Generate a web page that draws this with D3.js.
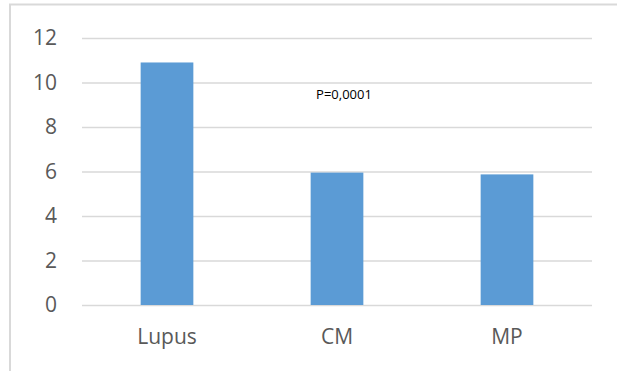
<!DOCTYPE html>
<html><head><meta charset="utf-8">
<script src="https://cdn.jsdelivr.net/npm/d3@7"></script>
<style>body{margin:0;background:#fff}svg{display:block}</style>
</head><body>
<script>
const categories = ["Lupus", "CM", "MP"];
const values = [10.9, 5.95, 5.87];
const yTicks = [0, 2, 4, 6, 8, 10, 12];
const annotation = "P=0,0001";

const W = 617, H = 371;
const svg = d3.select("body").append("svg").attr("width", W).attr("height", H);

// chart border (cropped)
svg.append("path").attr("d", `M10,371 V4.5 H617`).attr("fill","none")
  .attr("stroke","#d9d9d9").attr("stroke-width",2);

const x0 = 82, x1 = 592, yTop = 38, yBot = 305;
const x = d3.scaleBand().domain(categories).range([x0, x1]).padding(0);
const y = d3.scaleLinear().domain([0, 12]).range([yBot, yTop]);

const font = "'Open Sans', sans-serif";

const yAxis = d3.axisLeft(y).tickValues(yTicks).tickSize(-(x1 - x0)).tickPadding(25).tickFormat(d3.format("d"));
const gy = svg.append("g").attr("transform", `translate(${x0},0)`).call(yAxis);
gy.select(".domain").remove();
gy.selectAll(".tick line").attr("stroke", "#d9d9d9").attr("stroke-width", 1.5);
gy.selectAll(".tick text").attr("fill", "#595959").style("font-family", font).style("font-size", "21px");

const bw = x.bandwidth() * 0.31;
svg.append("g").selectAll("rect").data(values).join("rect")
  .attr("x", (d, i) => x(categories[i]) + x.bandwidth() / 2 - bw / 2)
  .attr("y", d => y(d))
  .attr("width", bw)
  .attr("height", d => y(0) - y(d))
  .attr("fill", "#5b9bd5");

const xAxis = d3.axisBottom(x).tickSize(0).tickPadding(24);
const gx = svg.append("g").attr("transform", `translate(0,${yBot})`).call(xAxis);
gx.select(".domain").remove();
gx.selectAll(".tick text").attr("fill", "#595959").style("font-family", font).style("font-size", "21px");

svg.append("text").attr("x", 344).attr("y", 99).attr("text-anchor", "middle")
  .style("font-family", font).style("font-size", "13px").attr("fill", "#000").text(annotation);
</script>
</body></html>
